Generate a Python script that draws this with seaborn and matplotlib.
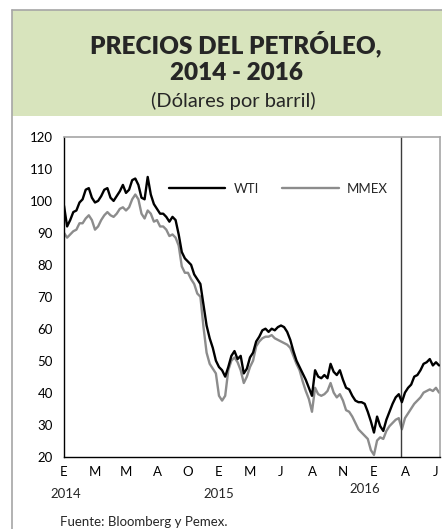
import pandas as pd
import seaborn as sns
import matplotlib.pyplot as plt
from matplotlib.lines import Line2D
from matplotlib.patches import Rectangle

# weekly readings, Jan 2014 - Jun 2016 (dollars per barrel)
wti = [98.5, 92, 94, 96.5, 97, 99.5, 100.5, 103.5, 104, 101,
       99.5, 100, 101.5, 103.5, 104, 101, 100, 101.5, 103, 105,
       102.5, 103.5, 106.5, 107, 105, 101, 100.5, 107.5, 102, 99,
       97.5, 96, 96, 95, 93.5, 95, 94, 89.5, 84, 82,
       81, 80, 77, 75.5, 74, 67.5, 61, 57, 54, 50,
       48, 47, 45, 48, 51.5, 53, 50.5, 51.5, 46, 47.5,
       51, 52.5, 56, 57.5, 59.5, 60, 59, 60, 59.5, 60.5,
       61, 60.5, 59, 56.5, 53, 50, 48, 46, 44, 41.5,
       39, 47, 45, 44.5, 45.5, 44.5, 49, 46.5, 45.5, 47,
       44, 41.5, 41, 39, 37.5, 37, 37, 36.5, 34, 31,
       27.5, 32.5, 29.5, 28, 31.5, 34, 36.5, 38.5, 39.5, 37,
       40, 41.5, 42.5, 45, 45.5, 47, 49, 49.5, 50.5, 48.5,
       49.5, 48.5]
mmex = [90, 88.5, 89.5, 90.5, 91, 93, 93, 94.5, 95.5, 94,
        91, 92, 94, 95.5, 96.5, 95.5, 95, 96, 97.5, 98,
        97, 98, 100.5, 102, 100.5, 96, 94.5, 97, 96, 93.5,
        94, 92, 92, 91, 89, 89.5, 88.5, 86, 79.5, 77.5,
        77.5, 75.5, 74, 71, 70, 60.5, 52.5, 49, 47.5, 46,
        39, 37.5, 39, 47, 50, 51, 49.5, 47, 43, 45,
        48, 50, 54.5, 56, 57, 57.5, 57.5, 58, 57, 56.5,
        56, 55.5, 55, 54, 51.5, 49, 47, 43.5, 40.5, 38,
        34, 41.5, 39.5, 39, 39.5, 40.5, 43, 40, 38.5, 39.5,
        37.5, 34.5, 34, 32.5, 30.5, 28.5, 27.5, 26.5, 25.5, 22,
        20.5, 25, 26, 25.5, 28, 29.5, 30.5, 31.5, 32, 28.5,
        32, 33.5, 35, 36.5, 37.5, 38.5, 40, 40.5, 41, 40.5,
        41.5, 40]
tick_weeks = [0, 10, 20, 30, 40, 50, 60, 70, 80, 90, 100, 110, 120]
tick_labels = ['E', 'M', 'M', 'A', 'O', 'E', 'M', 'J', 'A', 'N', 'E', 'A', 'J']
year_labels = ['2014', '2015', '2016']
year_weeks = [0.5, 50, 97]
marker_week = 108.8

df = pd.DataFrame({
    'semana': list(range(len(wti))) * 2,
    'precio': wti + mmex,
    'serie': ['WTI'] * len(wti) + ['MMEX'] * len(mmex),
})

sns.set_style('white')
plt.rcParams['font.family'] = ['Lato', 'DejaVu Sans']

W, H = 442, 529
fig = plt.figure(figsize=(W / 100, H / 100), dpi=100)

# header box and outer frame
fig.patches.append(Rectangle((12 / W, 1 - 116 / H), 1 - 12 / W, 106 / H,
                             transform=fig.transFigure, facecolor='#d8e4bd',
                             edgecolor='none', zorder=0))
fig.lines.append(Line2D([12 / W, 1], [1 - 9.5 / H] * 2, transform=fig.transFigure,
                        color='#a6a6a6', lw=1.2))
fig.lines.append(Line2D([12 / W] * 2, [0, 1 - 9.5 / H], transform=fig.transFigure,
                        color='#a6a6a6', lw=1.2))

fig.text(236 / W, 1 - 44 / H, 'PRECIOS DEL PETRÓLEO,', ha='center', va='center',
         fontsize=17.5, fontweight='heavy')
fig.text(236 / W, 1 - 73 / H, '2014 - 2016', ha='center', va='center',
         fontsize=17.5, fontweight='heavy')
fig.text(233 / W, 1 - 101 / H, '(Dólares por barril)', ha='center', va='center',
         fontsize=14.5)

ax = fig.add_axes([64 / W, 1 - 456.5 / H, 376 / W, 319.5 / H])
sns.lineplot(data=df, x='semana', y='precio', hue='serie', hue_order=['WTI', 'MMEX'],
             palette={'WTI': 'black', 'MMEX': '#8c8c8c'}, linewidth=1.7, ax=ax)
ax.lines[0].set_zorder(3)
ax.axvline(marker_week, color='#3c3c3c', lw=1.0)

ax.set_xlim(0, 121.3)
ax.set_ylim(20, 120)
ax.set_yticks(range(20, 121, 10))
ax.set_xticks(tick_weeks)
ax.set_xticklabels(tick_labels)
ax.set_xlabel('')
ax.set_ylabel('')
ax.tick_params(axis='both', direction='out', length=3, width=0.8, colors='black',
               labelsize=9.5)
ax.tick_params(axis='y', pad=5)
ax.tick_params(axis='x', pad=4)
for side in ['left', 'bottom']:
    ax.spines[side].set_color('black')
    ax.spines[side].set_linewidth(1.0)
for side in ['top', 'right']:
    ax.spines[side].set_color('#a6a6a6')
    ax.spines[side].set_linewidth(1.2)

for lab, wk in zip(year_labels, year_weeks):
    ypos = -0.102 if lab == '2016' else -0.117
    ax.text(wk, ypos, lab, transform=ax.get_xaxis_transform(), ha='center',
            va='center', fontsize=9.5)

handles, labels = ax.get_legend_handles_labels()
ax.legend(handles, labels, loc='center', bbox_to_anchor=(0.57, 0.837), ncol=2,
          frameon=False, fontsize=9.5, handlelength=4.3, columnspacing=1.8,
          handletextpad=0.6)

fig.text(60 / W, 1 - 522 / H, 'Fuente: Bloomberg y Pemex.', ha='left', va='center',
         fontsize=9.5)

fig.savefig('out.png', dpi=100)
